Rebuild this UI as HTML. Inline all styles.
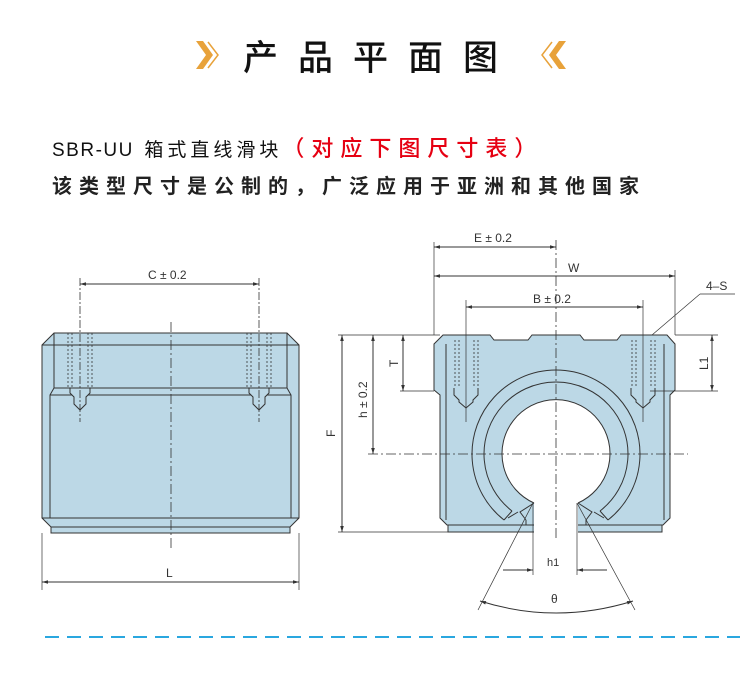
<!DOCTYPE html>
<html><head><meta charset="utf-8"><style>
body{margin:0;background:#fff;width:750px;height:686px;overflow:hidden;position:relative;font-family:"Liberation Sans","Noto Sans CJK SC",sans-serif}
.t{position:absolute;white-space:nowrap}
</style></head><body>
<div class="t" style="left:243px;top:30px;font-size:35px;letter-spacing:20px;color:#111;font-family:'Noto Sans CJK SC',sans-serif;font-weight:500">产品平面图</div>
<svg class="t" style="left:0;top:0" width="750" height="686">
<polygon points="196,41 203,41 213,55 203,69 196,69 206,55" fill="#e8a23a"/>
<polyline points="208,42 218,55 208,68" stroke="#e8a23a" stroke-width="1.5" fill="none"/>
<polyline points="552,42 542,55 552,68" stroke="#e8a23a" stroke-width="1.5" fill="none"/>
<polygon points="566,41 559,41 549,55 559,69 566,69 556,55" fill="#e8a23a"/>
</svg>
<div class="t" style="left:52px;top:131px;font-size:19px;color:#111;font-family:'Liberation Sans','Noto Sans CJK SC',sans-serif"><span style="letter-spacing:1.5px">SBR-UU</span>&nbsp;&nbsp;<span style="letter-spacing:4px">箱式直线滑块</span><span style="color:#e60012;font-size:22px;letter-spacing:7px;font-weight:500">（对应下图尺寸表）</span></div>
<div class="t" style="left:52px;top:170px;font-size:20px;font-weight:bold;color:#222;letter-spacing:7px;font-family:'Noto Sans CJK SC',sans-serif">该类型尺寸是公制的，广泛应用于亚洲和其他国家</div>
<svg class="t" style="left:0;top:0" width="750" height="686" font-family="Liberation Sans" font-size="12" fill="#333">
<defs><marker id="a" viewBox="0 0 10 10" refX="10" refY="5" markerWidth="8" markerHeight="6" orient="auto-start-reverse"><path d="M0,2 L10,5 L0,8z" fill="#333"/></marker></defs>
<g stroke="#333" stroke-width="1">
<path d="M51,527 L290,527 L290,533 L51,533Z" fill="#bcd8e6"/>
<path d="M42,345 L54,333 L287,333 L299,345 L299,518 L290,527 L51,527 L42,518Z" fill="#bcd8e6"/>
<line x1="42" y1="345" x2="299" y2="345"/><line x1="42" y1="518" x2="299" y2="518"/>
<path d="M54,333 L54,388 L50,395 L50,518 M287,333 L287,388 L291,395 L291,518 M54,388 L287,388 M50,395 L291,395" fill="none"/>
<g stroke-dasharray="2,2" stroke-width="0.8"><line x1="68" y1="333" x2="68" y2="388"/><line x1="72" y1="333" x2="72" y2="388"/><line x1="88" y1="333" x2="88" y2="388"/><line x1="92" y1="333" x2="92" y2="388"/><line x1="247" y1="333" x2="247" y2="388"/><line x1="251" y1="333" x2="251" y2="388"/><line x1="267" y1="333" x2="267" y2="388"/><line x1="271" y1="333" x2="271" y2="388"/></g>
<path d="M70,388 L90,388 L90,393 L86,397 L86,404 L80,410 L74,404 L74,397 L70,393Z M249,388 L269,388 L269,393 L265,397 L265,404 L259,410 L253,404 L253,397 L249,393Z" fill="#bcd8e6"/>
<line x1="80" y1="278" x2="80" y2="422" stroke-width="0.8" stroke-dasharray="8,2,2,2"/>
<line x1="259" y1="278" x2="259" y2="422" stroke-width="0.8" stroke-dasharray="8,2,2,2"/>
<line x1="171" y1="322" x2="171" y2="548" stroke-width="0.8" stroke-dasharray="10,3,2,3"/>
<line x1="80" y1="284" x2="259" y2="284" marker-start="url(#a)" marker-end="url(#a)"/>
<line x1="42" y1="533" x2="42" y2="590" stroke-width="0.7"/><line x1="299" y1="533" x2="299" y2="590" stroke-width="0.7"/>
<line x1="42" y1="582" x2="299" y2="582" marker-start="url(#a)" marker-end="url(#a)"/>
<path d="M448,525 L662,525 L662,532 L448,532Z" fill="#bcd8e6"/>
<path d="M434,344 L443,335 L490,335 L494,340 L528,340 L532,335 L580,335 L584,340 L617,340 L621,335 L667,335 L675,344 L675,390 L670,395 L670,518 L663,525 L447,525 L440,518 L440,395 L434,390Z" fill="#bcd8e6"/>
<path d="M534,503 A54,54 0 1 1 578,503 L578,533 L534,533Z" fill="#fff" stroke="none"/>
<path d="M534,503 A54,54 0 1 1 578,503" fill="none"/>
<path d="M504,520 A84,84 0 1 1 608,520" fill="none"/>
<path d="M512,511 A72,72 0 1 1 600,511" fill="none"/>
<path d="M534,503 L520,512 L526,520 M578,503 L592,512 L586,520 M504,520 L512,511 M608,520 L600,511 M526,520 L526,525 M586,520 L586,525 M508,518 L518,512 M604,518 L594,512" fill="none"/>
<line x1="446" y1="344" x2="446" y2="520"/><line x1="664" y1="344" x2="664" y2="520"/>
<g stroke-dasharray="2,2" stroke-width="0.8"><line x1="455" y1="340" x2="455" y2="388"/><line x1="459" y1="340" x2="459" y2="388"/><line x1="474" y1="340" x2="474" y2="388"/><line x1="478" y1="340" x2="478" y2="388"/><line x1="632" y1="340" x2="632" y2="388"/><line x1="636" y1="340" x2="636" y2="388"/><line x1="651" y1="340" x2="651" y2="388"/><line x1="655" y1="340" x2="655" y2="388"/></g>
<path d="M454,388 L454,395 L459,400 L459,402 L466,408 L473,402 L473,400 L478,395 L478,388 M631,388 L631,395 L636,400 L636,402 L643,408 L650,402 L650,400 L655,395 L655,388" fill="none"/>
<line x1="466" y1="300" x2="466" y2="422" stroke-width="0.7"/><line x1="643" y1="300" x2="643" y2="422" stroke-width="0.7"/>
<line x1="556" y1="240" x2="556" y2="540" stroke-width="0.8" stroke-dasharray="10,3,2,3"/>
<line x1="368" y1="454" x2="688" y2="454" stroke-width="0.8" stroke-dasharray="10,3,2,3"/>
<line x1="434" y1="242" x2="434" y2="335" stroke-width="0.7"/><line x1="675" y1="270" x2="675" y2="335" stroke-width="0.7"/>
<line x1="434" y1="247" x2="556" y2="247" marker-start="url(#a)" marker-end="url(#a)"/>
<line x1="434" y1="276" x2="675" y2="276" marker-start="url(#a)" marker-end="url(#a)"/>
<line x1="466" y1="307" x2="643" y2="307" marker-start="url(#a)" marker-end="url(#a)"/>
<line x1="338" y1="335" x2="440" y2="335" stroke-width="0.7"/><line x1="338" y1="532" x2="448" y2="532" stroke-width="0.7"/>
<line x1="400" y1="391" x2="434" y2="391" stroke-width="0.7"/>
<line x1="675" y1="335" x2="718" y2="335" stroke-width="0.7"/><line x1="650" y1="391" x2="718" y2="391" stroke-width="0.7"/>
<line x1="342" y1="335" x2="342" y2="532" marker-start="url(#a)" marker-end="url(#a)"/>
<line x1="373" y1="335" x2="373" y2="454" marker-start="url(#a)" marker-end="url(#a)"/>
<line x1="403" y1="335" x2="403" y2="391" marker-start="url(#a)" marker-end="url(#a)"/>
<line x1="712" y1="335" x2="712" y2="391" marker-start="url(#a)" marker-end="url(#a)"/>
<line x1="652" y1="335" x2="700" y2="294" stroke-width="0.7"/><line x1="700" y1="294" x2="735" y2="294" stroke-width="0.7"/>
<line x1="533" y1="503" x2="533" y2="575" stroke-width="0.7"/><line x1="577" y1="503" x2="577" y2="575" stroke-width="0.7"/>
<line x1="503" y1="570" x2="533" y2="570" marker-end="url(#a)"/><line x1="607" y1="570" x2="577" y2="570" marker-end="url(#a)"/>
<line x1="533" y1="503" x2="478" y2="610" stroke-width="0.7"/><line x1="577" y1="503" x2="635" y2="610" stroke-width="0.7"/>
<path d="M480,601 Q556,625 633,601" fill="none" marker-start="url(#a)" marker-end="url(#a)"/>
</g>
<g stroke="none">
<text x="148" y="279">C ± 0.2</text>
<text x="166" y="577">L</text>
<text x="474" y="242">E ± 0.2</text>
<text x="568" y="272">W</text>
<text x="533" y="303">B ± 0.2</text>
<text x="706" y="290">4–S</text>
<text x="547" y="566" font-size="11">h1</text>
<text x="551" y="603">θ</text>
<text transform="translate(335,437) rotate(-90)">F</text>
<text transform="translate(367,418) rotate(-90)">h ± 0.2</text>
<text transform="translate(398,367) rotate(-90)">T</text>
<text transform="translate(708,370) rotate(-90)">L1</text>
</g>
<line x1="45" y1="637" x2="740" y2="637" stroke="#2aa7df" stroke-width="2" stroke-dasharray="14,8"/>
</svg>
</body></html>
